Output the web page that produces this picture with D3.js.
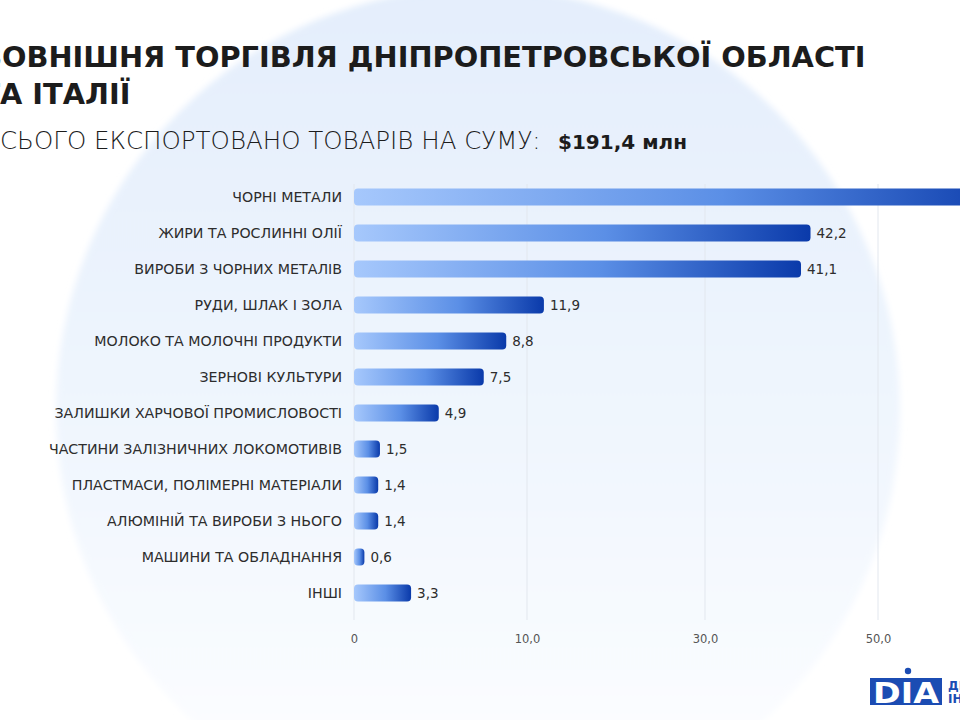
<!DOCTYPE html>
<html>
<head>
<meta charset="utf-8">
<script src="https://cdn.jsdelivr.net/npm/d3@7"></script>
<style>
  html, body { margin: 0; padding: 0; background: #fff; overflow: hidden; }
  svg { display: block; font-family: "DejaVu Sans", sans-serif; }
  .title text { font-kerning: none; }
</style>
</head>
<body>
<div id="chart-area"></div>
<script>
const categories = [
    "ЧОРНІ МЕТАЛИ",
    "ЖИРИ ТА РОСЛИННІ ОЛІЇ",
    "ВИРОБИ З ЧОРНИХ МЕТАЛІВ",
    "РУДИ, ШЛАК І ЗОЛА",
    "МОЛОКО ТА МОЛОЧНІ ПРОДУКТИ",
    "ЗЕРНОВІ КУЛЬТУРИ",
    "ЗАЛИШКИ ХАРЧОВОЇ ПРОМИСЛОВОСТІ",
    "ЧАСТИНИ ЗАЛІЗНИЧНИХ ЛОКОМОТИВІВ",
    "ПЛАСТМАСИ, ПОЛІМЕРНІ МАТЕРІАЛИ",
    "АЛЮМІНІЙ ТА ВИРОБИ З НЬОГО",
    "МАШИНИ ТА ОБЛАДНАННЯ",
    "ІНШІ"
];
// млн дол. США; перший рядок обрізаний у кадрі: 191,4 - сума решти
const values = [66.8, 42.2, 41.1, 11.9, 8.8, 7.5, 4.9, 1.5, 1.4, 1.4, 0.6, 3.3];
const tickValues = [0, 10, 30, 50];

const titleLines = ["ЗОВНІШНЯ ТОРГІВЛЯ ДНІПРОПЕТРОВСЬКОЇ ОБЛАСТІ", "ТА ІТАЛІЇ"];
const subtitle = "ВСЬОГО ЕКСПОРТОВАНО ТОВАРІВ НА СУМУ:";
const total = "$191,4 млн";

const size = {width: 960, height: 720};

const svg = d3.select("#chart-area")
    .append("svg")
    .attr("width", size.width)
    .attr("height", size.height);

const defs = svg.append("defs");

const bgGrad = defs.append("linearGradient")
    .attr("id", "bg-grad")
    .attr("x1", "0%").attr("x2", "0%").attr("y1", "0%").attr("y2", "100%");
bgGrad.append("stop").attr("offset", "0%").attr("stop-color", "#e4eefc");
bgGrad.append("stop").attr("offset", "35%").attr("stop-color", "#ebf3fd");
bgGrad.append("stop").attr("offset", "70%").attr("stop-color", "#f5f9fe");
bgGrad.append("stop").attr("offset", "100%").attr("stop-color", "#ffffff");

defs.append("filter").attr("id", "soft")
    .attr("x", "-10%").attr("y", "-10%").attr("width", "120%").attr("height", "120%")
    .append("feGaussianBlur").attr("stdDeviation", 3);

const barGrad = defs.append("linearGradient")
    .attr("id", "bar-grad")
    .attr("x1", "0%").attr("x2", "100%").attr("y1", "0%").attr("y2", "0%");
barGrad.append("stop").attr("offset", "0%").attr("stop-color", "#a6c8fc");
barGrad.append("stop").attr("offset", "55%").attr("stop-color", "#5b8fe6");
barGrad.append("stop").attr("offset", "100%").attr("stop-color", "#0a3aaa");

// фонове коло
svg.append("circle")
    .attr("cx", 478)
    .attr("cy", 410)
    .attr("r", 422)
    .attr("fill", "url(#bg-grad)")
    .attr("filter", "url(#soft)");

// шкали
const x = d3.scaleLinear()
    .domain(tickValues)
    .range([354, 527, 705, 878]);

const y = d3.scalePoint()
    .domain(categories)
    .range([197, 593]);

const barHeight = 17;

// сітка
svg.append("g")
    .attr("class", "grid")
    .selectAll("line")
    .data(tickValues)
    .enter()
    .append("line")
    .attr("x1", d => x(d))
    .attr("x2", d => x(d))
    .attr("y1", 184)
    .attr("y2", 620)
    .attr("stroke", "#e2e7ee")
    .attr("stroke-width", 1);

const fmt = d => d === 0 ? "0" : d3.format(".1f")(d).replace(".", ",");

const xAxis = d3.axisBottom(x)
    .tickValues(tickValues)
    .tickFormat(fmt)
    .tickSize(0)
    .tickPadding(0);

const axisG = svg.append("g")
    .attr("class", "x-axis")
    .attr("transform", "translate(0, 635)")
    .call(xAxis);

axisG.select(".domain").remove();
axisG.selectAll("text")
    .attr("fill", "#555")
    .attr("font-size", 11.5)
    .attr("font-family", "DejaVu Sans, sans-serif");

// стовпчики
const rows = svg.append("g").attr("class", "bars")
    .selectAll("g")
    .data(categories.map((c, i) => ({name: c, value: values[i]})))
    .enter()
    .append("g");

rows.append("rect")
    .attr("x", x(0))
    .attr("y", d => y(d.name) - barHeight / 2)
    .attr("width", d => x(d.value) - x(0))
    .attr("height", barHeight)
    .attr("rx", 4)
    .attr("fill", "url(#bar-grad)");

rows.append("text")
    .attr("x", 342)
    .attr("y", d => y(d.name))
    .attr("dy", "0.36em")
    .attr("text-anchor", "end")
    .attr("fill", "#2d2d2d")
    .attr("font-size", 14.2)
    .text(d => d.name);

rows.append("text")
    .attr("x", d => x(d.value) + 6)
    .attr("y", d => y(d.name))
    .attr("dy", "0.36em")
    .attr("fill", "#2d2d2d")
    .attr("font-size", 13.5)
    .text(d => fmt(d.value));

// заголовок: перша літера кожного рядка виходить за лівий край
const cropLeft = (text, firstVisibleX) => {
    const first = text.select("tspan.first").node().getComputedTextLength();
    text.attr("x", firstVisibleX - first);
};

const fitWidth = (text, target) => {
    const w = text.select("tspan.rest").node().getComputedTextLength();
    const fs = parseFloat(text.attr("font-size"));
    text.attr("font-size", fs * target / w);
};

const title = svg.append("g").attr("class", "title");

const addLine = (str, yPos, fs, weight) => {
    const t = title.append("text")
        .attr("y", yPos)
        .attr("font-size", fs)
        .attr("font-weight", weight)
        .attr("fill", "#1c1c1c");
    t.append("tspan").attr("class", "first").text(str.slice(0, 1));
    t.append("tspan").attr("class", "rest").text(str.slice(1));
    return t;
};

const line1 = addLine(titleLines[0], 67, 30, "bold");
fitWidth(line1, 864);
cropLeft(line1, 2);

const line2 = addLine(titleLines[1], 104, parseFloat(line1.attr("font-size")), "bold");
cropLeft(line2, 0);

const sub = addLine(subtitle, 149, 22, 200);
fitWidth(sub, 541);
cropLeft(sub, 0);

title.append("text")
    .attr("x", 558)
    .attr("y", 149)
    .attr("font-size", 20)
    .attr("font-weight", "bold")
    .attr("fill", "#1c1c1c")
    .text(total);

// логотип
const logo = svg.append("g").attr("class", "logo");
logo.append("rect")
    .attr("x", 870).attr("y", 678)
    .attr("width", 72).attr("height", 27)
    .attr("fill", "#1b4cb3");
logo.append("circle")
    .attr("cx", 908).attr("cy", 671).attr("r", 3.2)
    .attr("fill", "#1b4cb3");
logo.append("text")
    .attr("x", 873).attr("y", 703)
    .attr("font-size", 29)
    .attr("font-weight", "bold")
    .attr("textLength", 66)
    .attr("lengthAdjust", "spacingAndGlyphs")
    .attr("fill", "#fff")
    .text("DIA");
logo.append("text")
    .attr("x", 948).attr("y", 690)
    .attr("font-size", 12)
    .attr("font-weight", "bold")
    .attr("fill", "#1b4cb3")
    .text("ДНІПРО");
logo.append("text")
    .attr("x", 948).attr("y", 703)
    .attr("font-size", 12)
    .attr("font-weight", "bold")
    .attr("fill", "#1b4cb3")
    .text("ІНВЕСТ");
</script>
</body>
</html>
